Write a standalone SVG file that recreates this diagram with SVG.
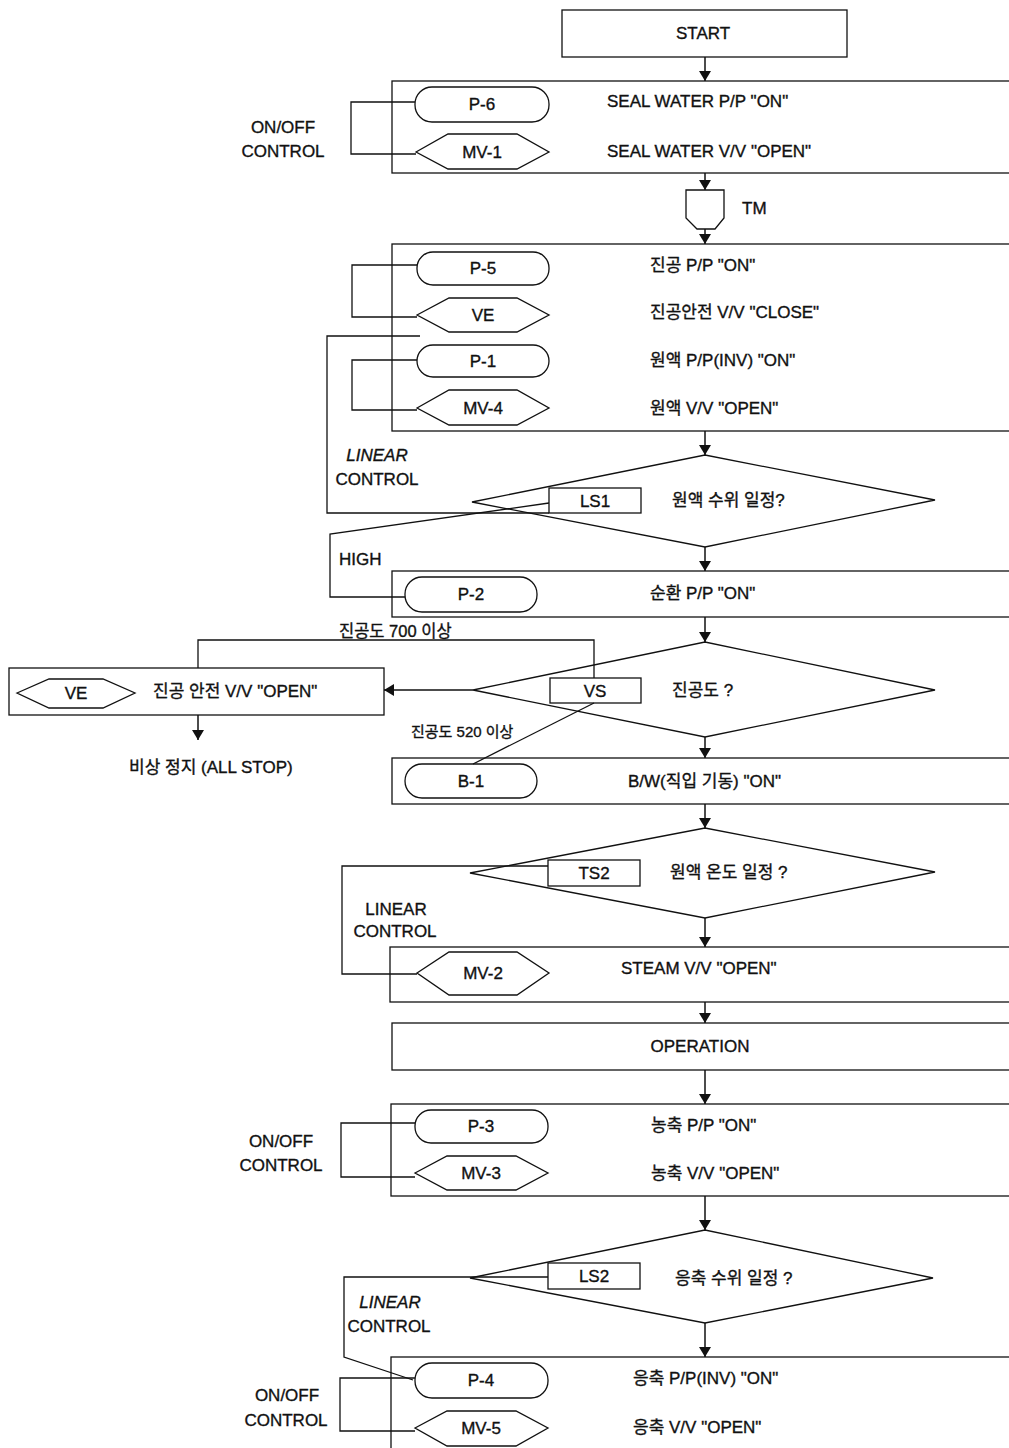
<svg xmlns="http://www.w3.org/2000/svg" width="1009" height="1448" viewBox="0 0 1009 1448">
<defs>
<marker id="ah" markerWidth="10" markerHeight="12" refX="10" refY="6" orient="auto" markerUnits="userSpaceOnUse">
<path d="M0,0 L10,6 L0,12 Z" fill="#111"/>
</marker>
<style>
.s{fill:#fff;stroke:#111;stroke-width:1.3}
.c{fill:none;stroke:#111;stroke-width:1.3}
.a{fill:none;stroke:#111;stroke-width:1.5;marker-end:url(#ah)}
text{font-family:"Liberation Sans","Noto Sans CJK KR",sans-serif;font-size:17px;fill:#111;stroke:#111;stroke-width:0.35}
.m{text-anchor:middle}
.i{font-style:italic}
.sm{font-size:15px}
.md{font-size:16.5px}
</style>
</defs>
<rect width="1009" height="1448" fill="#fff"/>

<g id="labels">
<text class="m" x="283" y="133">ON/OFF</text>
<text class="m" x="283" y="157">CONTROL</text>
<text class="m i" x="377" y="461">LINEAR</text>
<text class="m" x="377" y="485">CONTROL</text>
<text x="339" y="565">HIGH</text>
<text class="md" x="339" y="637">진공도 700 이상</text>
<text class="sm" x="411" y="737">진공도 520 이상</text>
<text x="129" y="773">비상 정지 (ALL STOP)</text>
<text class="m" x="396" y="915">LINEAR</text>
<text class="m" x="395" y="937">CONTROL</text>
<text class="m" x="281" y="1147">ON/OFF</text>
<text class="m" x="281" y="1171">CONTROL</text>
<text class="m i" x="390" y="1308">LINEAR</text>
<text class="m" x="389" y="1332">CONTROL</text>
<text class="m" x="287" y="1401">ON/OFF</text>
<text class="m" x="286" y="1426">CONTROL</text>
</g>

<g id="start">
<rect class="s" x="562" y="10" width="285" height="47"/>
<text class="m" x="703" y="39">START</text>
</g>

<g id="step-seal">
<rect class="s" x="392" y="81" width="630" height="92"/>
<text x="607" y="107">SEAL WATER P/P "ON"</text>
<text x="607" y="157">SEAL WATER V/V "OPEN"</text>
</g>
<g id="p6"><rect class="s" x="415" y="87" width="134" height="35" rx="17"/><text class="m" x="482" y="110">P-6</text></g>
<g id="mv1"><polygon class="s" points="416,152 448,134 517,134 549,152 517,169 448,169"/><text class="m" x="482" y="158">MV-1</text></g>

<g id="tm">
<path class="s" d="M686,190 H724 V218 L715,229 H697 L686,218 Z"/>
<text x="742" y="214">TM</text>
</g>

<g id="step-vacuum">
<rect class="s" x="392" y="244" width="630" height="187"/>
<text x="650" y="271">진공 P/P "ON"</text>
<text x="650" y="318">진공안전 V/V "CLOSE"</text>
<text x="650" y="366">원액 P/P(INV) "ON"</text>
<text x="650" y="414">원액 V/V "OPEN"</text>
</g>
<g id="p5"><rect class="s" x="417" y="252" width="132" height="33" rx="16"/><text class="m" x="483" y="274">P-5</text></g>
<g id="ve1"><polygon class="s" points="417,315 449,298 517,298 549,315 517,332 449,332"/><text class="m" x="483" y="321">VE</text></g>
<g id="p1"><rect class="s" x="417" y="345" width="132" height="32" rx="16"/><text class="m" x="483" y="367">P-1</text></g>
<g id="mv4"><polygon class="s" points="417,408 449,390 517,390 549,408 517,425 449,425"/><text class="m" x="483" y="414">MV-4</text></g>

<g id="decision-ls1">
<polygon class="s" points="472,502 705,455 935,500 705,547"/>
<rect class="s" x="549" y="488" width="92" height="25"/>
<text class="m" x="595" y="507">LS1</text>
<text x="672" y="506">원액 수위  일정?</text>
</g>

<g id="step-circ">
<rect class="s" x="392" y="571" width="630" height="46"/>
<text x="650" y="599">순환 P/P "ON"</text>
</g>
<g id="p2"><rect class="s" x="405" y="577" width="132" height="35" rx="17"/><text class="m" x="471" y="600">P-2</text></g>

<g id="decision-vs">
<polygon class="s" points="473,690 705,642 935,690 705,737"/>
<rect class="s" x="550" y="678" width="91" height="25"/>
<text class="m" x="595" y="697">VS</text>
<text x="672" y="696">진공도 ?</text>
</g>

<g id="emergency">
<rect class="s" x="9" y="668" width="375" height="47"/>
<polygon class="s" points="17,693 49,679 103,679 135,693 103,708 49,708"/>
<text class="m" x="76" y="699">VE</text>
<text x="153" y="697">진공 안전 V/V "OPEN"</text>
</g>

<g id="step-bw">
<rect class="s" x="392" y="758" width="630" height="46"/>
<text x="628" y="787">B/W(직입 기동) "ON"</text>
</g>
<g id="b1"><rect class="s" x="405" y="764" width="132" height="34" rx="17"/><text class="m" x="471" y="787">B-1</text></g>

<g id="decision-ts2">
<polygon class="s" points="470,873 705,828 935,872 705,918"/>
<rect class="s" x="548" y="860" width="92" height="26"/>
<text class="m" x="594" y="879">TS2</text>
<text x="670" y="878">원액 온도 일정 ?</text>
</g>

<g id="step-steam">
<rect class="s" x="390" y="947" width="632" height="55"/>
<text x="621" y="974">STEAM V/V "OPEN"</text>
</g>
<g id="mv2"><polygon class="s" points="417,973 449,952 517,952 549,973 517,995 449,995"/><text class="m" x="483" y="979">MV-2</text></g>

<g id="operation">
<rect class="s" x="392" y="1023" width="630" height="47"/>
<text class="m" x="700" y="1052">OPERATION</text>
</g>

<g id="step-conc">
<rect class="s" x="391" y="1104" width="631" height="92"/>
<text x="651" y="1131">농축 P/P "ON"</text>
<text x="651" y="1179">농축 V/V "OPEN"</text>
</g>
<g id="p3"><rect class="s" x="415" y="1110" width="133" height="33" rx="16"/><text class="m" x="481" y="1132">P-3</text></g>
<g id="mv3"><polygon class="s" points="415,1173 447,1156 516,1156 548,1173 516,1190 447,1190"/><text class="m" x="481" y="1179">MV-3</text></g>

<g id="decision-ls2">
<polygon class="s" points="470,1278 705,1230 933,1278 705,1323"/>
<rect class="s" x="548" y="1263" width="92" height="26"/>
<text class="m" x="594" y="1282">LS2</text>
<text x="675" y="1284">응축 수위 일정 ?</text>
</g>

<g id="step-cond">
<rect class="s" x="391" y="1357" width="631" height="120"/>
<text x="633" y="1384">응축 P/P(INV) "ON"</text>
<text x="633" y="1433">응축 V/V  "OPEN"</text>
</g>
<g id="p4"><rect class="s" x="415" y="1363" width="133" height="35" rx="17"/><text class="m" x="481" y="1386">P-4</text></g>
<g id="mv5"><polygon class="s" points="415,1428 447,1411 516,1411 548,1428 516,1446 447,1446"/><text class="m" x="481" y="1434">MV-5</text></g>

<g id="connectors">
<line class="a" x1="705" y1="57" x2="705" y2="81"/>
<line class="a" x1="705" y1="173" x2="705" y2="190"/>
<line class="a" x1="705" y1="229" x2="705" y2="244"/>
<line class="a" x1="705" y1="431" x2="705" y2="455"/>
<line class="a" x1="705" y1="547" x2="705" y2="571"/>
<line class="a" x1="705" y1="617" x2="705" y2="642"/>
<line class="a" x1="705" y1="737" x2="705" y2="758"/>
<line class="a" x1="705" y1="804" x2="705" y2="828"/>
<line class="a" x1="705" y1="918" x2="705" y2="947"/>
<line class="a" x1="705" y1="1002" x2="705" y2="1023"/>
<line class="a" x1="705" y1="1070" x2="705" y2="1104"/>
<line class="a" x1="705" y1="1196" x2="705" y2="1230"/>
<line class="a" x1="705" y1="1323" x2="705" y2="1357"/>
<line class="a" x1="473" y1="690" x2="384" y2="690"/>
<line class="a" x1="198" y1="715" x2="198" y2="740"/>
<polyline class="c" points="415,102 351,102 351,154 416,154"/>
<polyline class="c" points="417,265 352,265 352,317 417,317"/>
<polyline class="c" points="417,360 352,360 352,410 417,410"/>
<polyline class="c" points="420,336 327,336 327,513 549,513"/>
<polyline class="c" points="549,503 330,534 330,597 405,597"/>
<polyline class="c" points="594,678 594,640 198,640 198,668"/>
<line class="c" x1="594" y1="703" x2="473" y2="764"/>
<polyline class="c" points="548,866 342,866 342,974 417,974"/>
<polyline class="c" points="415,1123 341,1123 341,1177 415,1177"/>
<polyline class="c" points="548,1277 344,1277 344,1357 413,1380"/>
<polyline class="c" points="415,1378 340,1378 340,1431 415,1431"/>
</g>
</svg>
